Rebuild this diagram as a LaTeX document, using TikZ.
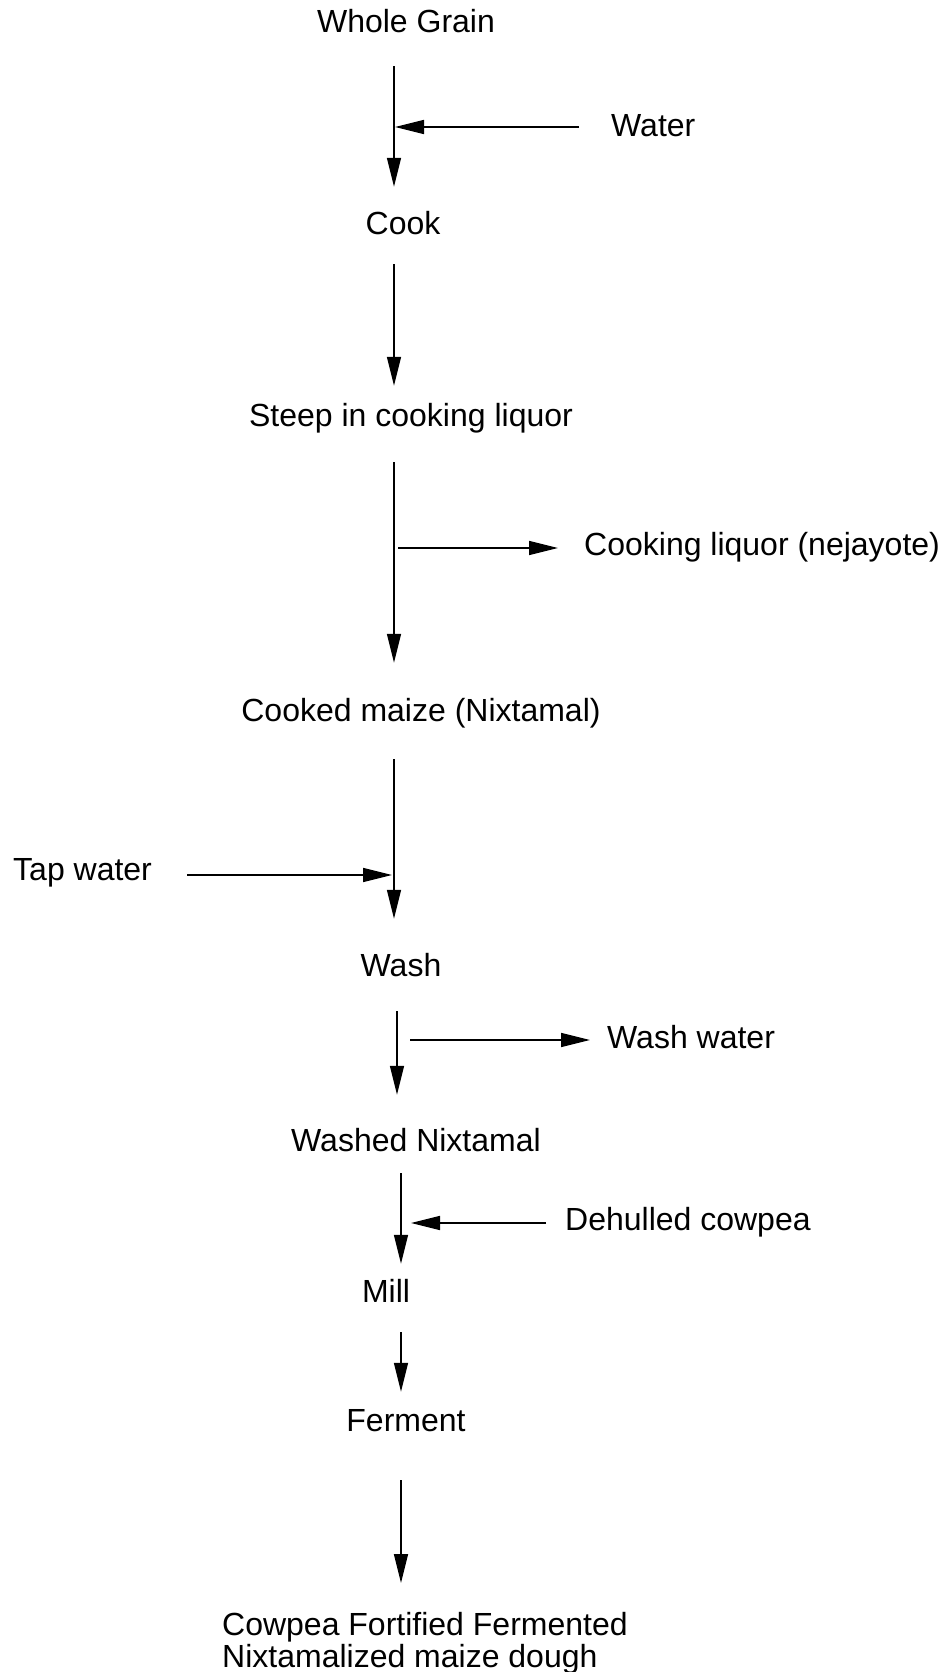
\documentclass[tikz,border=0pt]{standalone}
\usepackage{fontspec}
\setmainfont{Liberation Sans}
\usepackage{tikz}
\usetikzlibrary{arrows.meta}

\tikzset{
    flow/.style = {line width = 1.6pt, -{Triangle[length = 29pt, width = 14pt]}},
    stage/.style = {inner sep = 0pt, text height = 23pt, text depth = 0pt,
        font = \fontsize{32}{32}\selectfont}
}

\begin{document}
\begin{tikzpicture}[x = 1pt, y = 1pt]
    \useasboundingbox (0, 0) rectangle (949, -1672);

    \coordinate (c1) at (394, 0);
    \coordinate (c2) at (397, 0);
    \coordinate (c3) at (401, 0);

    \node[stage] (grain) at (406, -21) {Whole Grain};
    \node[stage, anchor = west] (water) at (611, -125) {Water};
    \node[stage] (cook) at (403, -223) {Cook};
    \node[stage] (steep) at (411, -415) {Steep in cooking liquor};
    \node[stage, anchor = west] (liquor) at (584, -544) {Cooking liquor (nejayote)};
    \node[stage] (cooked) at (421, -710) {Cooked maize (Nixtamal)};
    \node[stage, anchor = west] (tap) at (13, -869) {Tap water};
    \node[stage] (wash) at (401, -965) {Wash};
    \node[stage, anchor = west] (washwater) at (607, -1037) {Wash water};
    \node[stage] (washed) at (416, -1140) {Washed Nixtamal};
    \node[stage, anchor = west] (cowpea) at (565, -1219) {Dehulled cowpea};
    \node[stage] (mill) at (386, -1291) {Mill};
    \node[stage] (ferment) at (406, -1420) {Ferment};
    \node[stage, text height = 55pt, anchor = north west, align = left] (dough) at (222, -1612.5)
        {Cowpea Fortified Fermented\\Nixtamalized maize dough};

    \draw[flow, shorten < = 33.5, shorten > = 24.5] (grain.south -| c1) -- (cook.north -| c1);
    \draw[flow, shorten < = 32, shorten > = 1] ([yshift = -2]water.west) -- ([yshift = -2]water.west -| c1);
    \draw[flow, shorten < = 29.5, shorten > = 17.5] (cook.south -| c1) -- (steep.north -| c1);
    \draw[flow, shorten < = 35.5, shorten > = 35.5] (steep.south -| c1) -- (cooked.north -| c1);
    \draw[flow, shorten < = 4, shorten > = 26] ([yshift = -4]liquor.west -| c1) -- ([yshift = -4]liquor.west);
    \draw[flow, shorten < = 37.5, shorten > = 34.5] (cooked.south -| c1) -- (wash.north -| c1);
    \draw[flow, shorten < = 35, shorten > = 2] ([yshift = -6]tap.east) -- ([yshift = -6]tap.east -| c1);
    \draw[flow, shorten < = 34.5, shorten > = 33.5] (wash.south -| c2) -- (washed.north -| c2);
    \draw[flow, shorten < = 13, shorten > = 17] ([yshift = -3]washwater.west -| c2) -- ([yshift = -3]washwater.west);
    \draw[flow, shorten < = 21.5, shorten > = 15.5] (washed.south -| c3) -- (mill.north -| c3);
    \draw[flow, shorten < = 19, shorten > = 10] ([yshift = -4]cowpea.west) -- ([yshift = -4]cowpea.west -| c3);
    \draw[flow, shorten < = 29.5, shorten > = 16.5] (mill.south -| c3) -- (ferment.north -| c3);
    \draw[flow, shorten < = 48.5, shorten > = 29.5] (ferment.south -| c3) -- (dough.north -| c3);
\end{tikzpicture}
\end{document}
